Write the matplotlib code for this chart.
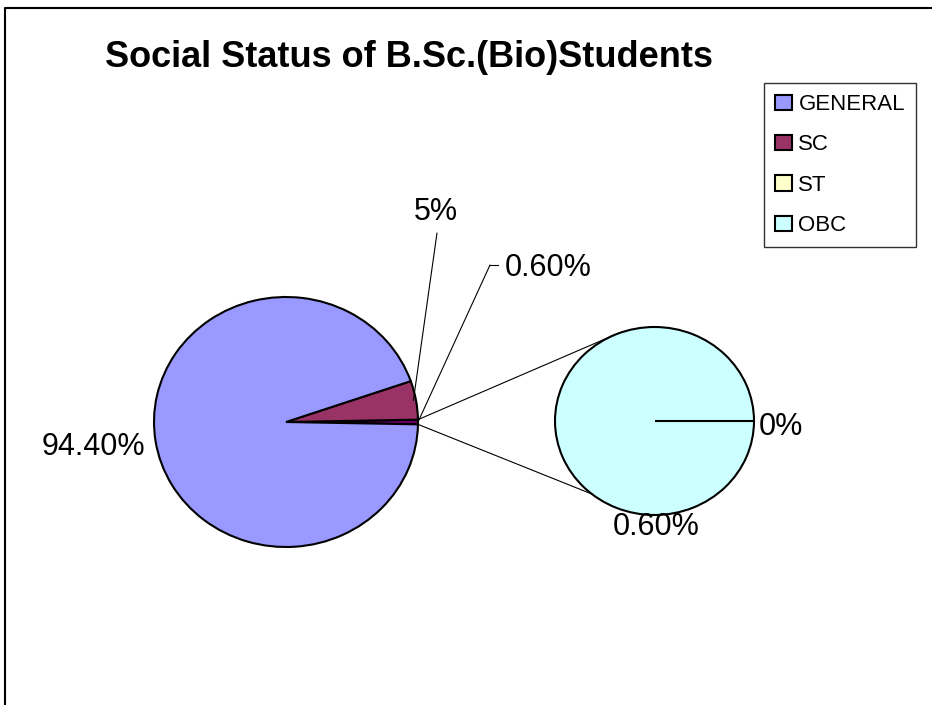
import matplotlib
matplotlib.use("Agg")
import matplotlib.pyplot as plt
import numpy as np
from matplotlib.patches import ConnectionPatch, Patch

plt.rcParams["font.family"] = ["Liberation Sans", "DejaVu Sans"]

# data
categories = ["GENERAL", "SC", "ST", "OBC"]
percent = [94.4, 5.0, 0.0, 0.6]
colors = ["#9999FF", "#993366", "#FFFFCC", "#CCFFFF"]
other_color = "#660066"

# main pie: the "other" slice (ST + OBC), SC, GENERAL
other_share = percent[2] + percent[3]
main_values = [other_share, percent[1], percent[0]]
main_colors = [other_color, colors[1], colors[0]]
main_labels = ["0.60%", "5%", "94.40%"]

# second pie: breakdown of the "other" slice
sub_values = [percent[2], percent[3]]
sub_colors = [colors[2], colors[3]]
sub_labels = ["0%", "0.60%"]

title = "Social Status of B.Sc.(Bio)Students"

W, H = 932, 705
fig = plt.figure(figsize=(W / 100, H / 100), dpi=100)


def px_axes(x0, y0, x1, y1):
    # axes placed by pixel box (origin top-left)
    return fig.add_axes([x0 / W, 1 - y1 / H, (x1 - x0) / W, (y1 - y0) / H])


def edge(angle, r=1.0):
    a = np.deg2rad(angle)
    return (r * np.cos(a), r * np.sin(a))


wp = dict(edgecolor="black", linewidth=1.5, clip_on=False)

# main pie, "other" slice centred on the right
ax_main = px_axes(154, 297, 418, 547)
start = -other_share / sum(main_values) * 180
w_main, _ = ax_main.pie(main_values, colors=main_colors, startangle=start,
                        radius=1, wedgeprops=wp)
ax_main.set_aspect("auto")
ax_main.set_xlim(-1, 1)
ax_main.set_ylim(-1, 1)

# secondary pie
ax_sub = px_axes(555, 327, 754, 515)
w_sub, _ = ax_sub.pie(sub_values, colors=sub_colors, startangle=0,
                      radius=1, wedgeprops=wp)
ax_sub.set_aspect("auto")
ax_sub.set_xlim(-1, 1)
ax_sub.set_ylim(-1, 1)
# boundary of the zero-size ST slice
st_angle = w_sub[0].theta1
ax_sub.plot([0, edge(st_angle)[0]], [0, edge(st_angle)[1]], color="black",
            lw=1.5, solid_capstyle="butt", clip_on=False)

# overlay in pixel coordinates for texts and lines
bg = fig.add_axes([0, 0, 1, 1])
bg.set_xlim(0, W)
bg.set_ylim(H, 0)
bg.axis("off")
bg.patch.set_alpha(0)

# chart border (cropped at right and bottom)
bg.plot([5, 5, W], [H, 8, 8], color="black", lw=1.5, clip_on=False)

bg.text(409, 67, title, ha="center", va="baseline", fontsize=26,
        fontweight="bold")

# series lines between the pies
other = w_main[0]
for a_main, a_sub in [(other.theta2, 114), (other.theta1, 231)]:
    fig.add_artist(ConnectionPatch(
        xyA=edge(a_main), coordsA=ax_main.transData,
        xyB=edge(a_sub), coordsB=ax_sub.transData,
        color="black", lw=0.8))

# data labels
lab_fs = 22
mid_other = (other.theta1 + other.theta2) / 2
mid_sc = (w_main[1].theta1 + w_main[1].theta2) / 2

bg.text(505, 276, main_labels[0], ha="left", va="baseline", fontsize=lab_fs)
bg.plot([498, 490], [265, 265], color="black", lw=0.8)
fig.add_artist(ConnectionPatch(
    xyA=(490, 265), coordsA=bg.transData,
    xyB=edge(mid_other), coordsB=ax_main.transData, color="black", lw=0.8))

bg.text(436, 220, main_labels[1], ha="center", va="baseline", fontsize=lab_fs)
fig.add_artist(ConnectionPatch(
    xyA=(437, 233), coordsA=bg.transData,
    xyB=edge(mid_sc, 0.98), coordsB=ax_main.transData, color="black", lw=0.8))

bg.text(145, 455, main_labels[2], ha="right", va="baseline", fontsize=lab_fs)

bg.text(759, 435, sub_labels[0], ha="left", va="baseline", fontsize=lab_fs)
bg.text(656, 535, sub_labels[1], ha="center", va="baseline", fontsize=lab_fs)

# legend
handles = [Patch(facecolor=c, edgecolor="black", linewidth=1.5) for c in colors]
leg = bg.legend(handles, categories, loc="upper left",
                bbox_to_anchor=(764, 83), bbox_transform=bg.transData,
                frameon=True, fancybox=False, edgecolor="black", fontsize=16,
                handlelength=0.75, handleheight=0.7, handletextpad=0.3,
                labelspacing=0.87, borderpad=0.5, borderaxespad=0)
leg.get_frame().set_linewidth(1.0)

fig.savefig("out.png", dpi=100)
